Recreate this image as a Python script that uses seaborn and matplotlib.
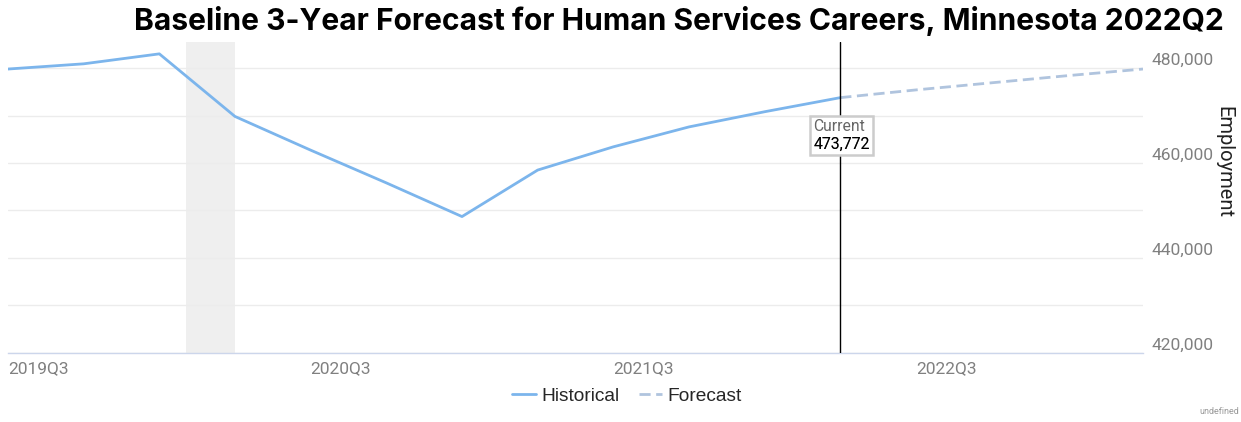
import matplotlib
matplotlib.use("Agg")
import matplotlib.pyplot as plt
import matplotlib.ticker as mticker
from matplotlib.lines import Line2D
import seaborn as sns
import pandas as pd

# ---- data ----
hist_quarters = ['2019Q3', '2019Q4', '2020Q1', '2020Q2', '2020Q3', '2020Q4',
                 '2021Q1', '2021Q2', '2021Q3', '2021Q4', '2022Q1', '2022Q2']
hist_values = [479800, 480900, 483000, 469800, 462700, 455800,
               448700, 458500, 463400, 467600, 470800, 473772]
fc_quarters = ['2022Q2', '2022Q3', '2022Q4', '2023Q1', '2023Q2']
fc_values = [473772, 475400, 476900, 478400, 479800]
tick_labels = ['2019Q3', '2020Q3', '2021Q3', '2022Q3']
current_quarter = '2022Q2'
current_value = 473772
recession_start = 2.35   # in quarter-index units
recession_end = 3.0
title = "Baseline 3-Year Forecast for Human Services Careers, Minnesota 2022Q2"

all_q = hist_quarters + [q for q in fc_quarters if q not in hist_quarters]
qidx = {q: i for i, q in enumerate(all_q)}

hist_df = pd.DataFrame({'x': [qidx[q] for q in hist_quarters], 'y': hist_values})
fc_df = pd.DataFrame({'x': [qidx[q] for q in fc_quarters], 'y': fc_values})

sns.set_style("white")
plt.rcParams['font.family'] = ['Roboto', 'DejaVu Sans']

W, H = 1241, 422
fig = plt.figure(figsize=(W / 100, H / 100), dpi=100)
ax = fig.add_axes([8 / W, 1 - 352.7 / H, 1135 / W, (352.7 - 42) / H])

hist_color = '#7cb5ec'
fc_color = '#b0c4de'

ax.axvspan(recession_start, recession_end, color='#efefef', lw=0, zorder=0)

sns.lineplot(data=hist_df, x='x', y='y', ax=ax, color=hist_color, lw=2.0, zorder=3)
sns.lineplot(data=fc_df, x='x', y='y', ax=ax, color=fc_color, lw=2.0,
             linestyle=(0, (4, 2)), zorder=3)

ax.axvline(qidx[current_quarter], color='black', lw=1.0, zorder=4)

# annotation box
ann_kw = dict(xy=(qidx[current_quarter], current_value), xycoords='data',
              xytext=(-27, -38), textcoords='offset pixels',
              ha='left', va='center', fontsize=11.3, linespacing=1.2)
ax.annotate("Current\n473,772", color='#666666', zorder=6,
            bbox=dict(boxstyle='square,pad=0.2', fc='white', ec='#cccccc', lw=1.8),
            **ann_kw)
ax.annotate(" \n473,772", color='black', zorder=7, **ann_kw)

ax.set_xlim(0, len(all_q) - 1)
ax.set_ylim(420000, 485500)

ax.set_xticks([qidx[q] for q in tick_labels])
ax.set_xticklabels(tick_labels)
for lab in ax.get_xticklabels():
    lab.set_ha('left')
ax.tick_params(axis='x', length=5, width=1, color='#ccd6eb', colors='#808080',
               labelsize=12.5, pad=1)

ax.yaxis.tick_right()
ax.yaxis.set_label_position('right')
ax.yaxis.set_major_locator(mticker.MultipleLocator(20000))
ax.yaxis.set_minor_locator(mticker.MultipleLocator(10000))
ax.yaxis.set_major_formatter(mticker.FuncFormatter(lambda v, p: f"{int(v):,}"))
ax.tick_params(axis='y', which='both', length=0, colors='#808080', labelsize=12.5, pad=6)
for lab in ax.get_yticklabels():
    lab.set_va('bottom')

ax.grid(axis='y', which='both', color='#ececec', lw=1)
ax.grid(axis='x', visible=False)
ax.set_axisbelow(True)

for s in ['top', 'left', 'right']:
    ax.spines[s].set_visible(False)
ax.spines['bottom'].set_color('#ccd6eb')
ax.spines['bottom'].set_linewidth(1)

ax.set_xlabel('')
ax.set_ylabel('Employment', rotation=270, fontsize=14.5, color='#222222')
ax.yaxis.set_label_coords(1.080, 0.614)

t = fig.text(679 / W, 1 - 21 / H, title, ha='center', va='center', color='black',
             fontsize=20, fontweight='bold', family=['Inter', 'DejaVu Sans'])
# fit title width to the reference's span (~1092 px)
fig.canvas.draw()
w = t.get_window_extent().width
t.set_fontsize(20 * 1092 / w)

handles = [Line2D([0], [0], color=hist_color, lw=2),
           Line2D([0], [0], color=fc_color, lw=2, linestyle=(0, (4, 2)))]
fig.legend(handles, ['Historical', 'Forecast'], loc='center', ncol=2,
           bbox_to_anchor=(627 / W, 1 - 396 / H), frameon=False,
           prop={'family': ['Liberation Sans', 'DejaVu Sans'], 'size': 13.8},
           handlelength=1.25, handletextpad=0.25, columnspacing=1.0)

fig.text(1239 / W, 1 - 412 / H, 'undefined', fontsize=6.5, color='#999999',
         ha='right', va='center')

fig.savefig('out.png', dpi=100)
